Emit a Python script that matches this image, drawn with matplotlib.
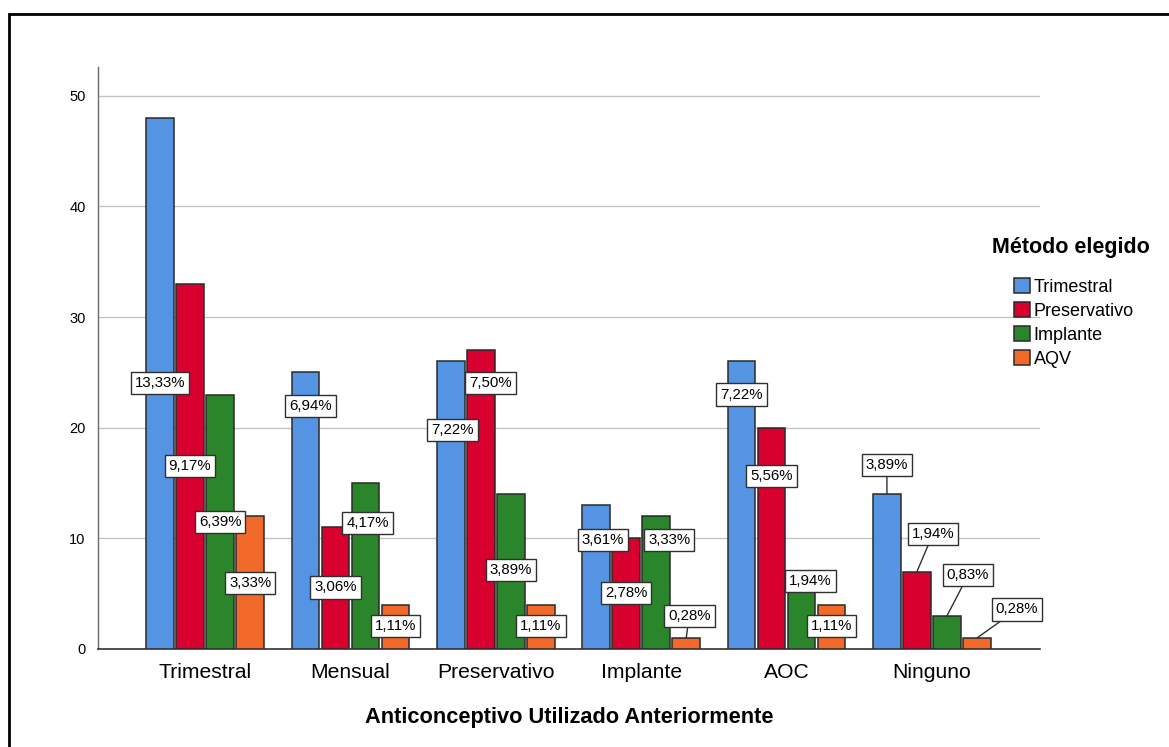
import matplotlib
matplotlib.use("Agg")
import matplotlib.pyplot as plt
from matplotlib.patches import Rectangle, Patch
import numpy as np

plt.rcParams['font.family'] = ['Liberation Sans', 'DejaVu Sans']

# Categories on the x axis and the series (chosen method)
categories = ["Trimestral", "Mensual", "Preservativo", "Implante", "AOC", "Ninguno"]
series_names = ["Trimestral", "Preservativo", "Implante", "AQV"]

# Counts per previous method, one list per chosen method
trimestral = [48, 25, 26, 13, 26, 14]
preservativo = [33, 11, 27, 10, 20, 7]
implante = [23, 15, 14, 12, 7, 3]
aqv = [12, 4, 4, 1, 4, 1]

colors = ["#5594E2", "#D7002F", "#2B862B", "#F26A2A"]

# Label placement: (y in data units, horizontal shift in px, draw leader line)
label_layout = [
    [(24.05, 0, False), (22.0, 5, False), (19.8, 1.5, False), (9.85, 7, False), (23.0, 0, False), (16.6, 0, True)],
    [(16.55, 0, False), (5.56, 0, False), (24.0, 9.5, False), (5.06, 0, False), (15.6, 0, False), (10.4, 16, True)],
    [(11.48, 0, False), (11.4, 2, False), (7.1, 0, False), (9.85, 13, False), (6.15, 9, False), (6.65, 21, True)],
    [(5.97, 0, False), (2.1, 0, False), (2.1, 0, False), (3.0, 3, True), (2.1, 0, False), (3.57, 40, True)],
]

values = [trimestral, preservativo, implante, aqv]
total = sum(sum(v) for v in values)

W, H = 1169, 747
fig = plt.figure(figsize=(W / 100, H / 100), dpi=100)
ax = fig.add_axes([98 / W, 1 - 649 / H, (1040 - 98) / W, (649 - 67) / H])

x = np.arange(len(categories))
pitch = 0.2065
bar_w = 0.19
px_per_unit = 145.4
edge = "#2a2a2a"

for i, (name, vals, col) in enumerate(zip(series_names, values, colors)):
    xs = x + (i - 1.5) * pitch
    ax.bar(xs, vals, width=bar_w, color=col, edgecolor=edge, linewidth=1.1, zorder=3)
    for j, v in enumerate(vals):
        ly, dx, leader = label_layout[i][j]
        txt = f"{v / total * 100:.2f}".replace(".", ",") + "%"
        lx = xs[j] + dx / px_per_unit
        bbox = dict(boxstyle="square,pad=0.27", fc="white", ec="#303030", lw=1.0)
        if leader:
            ax.annotate(txt, xy=(xs[j], v), xytext=(lx, ly), ha="center", va="center",
                        fontsize=10.8, bbox=bbox, zorder=5,
                        arrowprops=dict(arrowstyle="-", color="#303030", lw=1.0,
                                        shrinkA=0, shrinkB=0))
        else:
            ax.text(lx, ly, txt, ha="center", va="center", fontsize=10.8,
                    bbox=bbox, zorder=5)

ax.set_xlim(-0.736, 5.743)
ax.set_ylim(0, 52.6)
ax.set_yticks([0, 10, 20, 30, 40, 50])
ax.set_xticks(x)
ax.set_xticklabels(categories, fontsize=15.2)
ax.tick_params(axis="x", length=0, pad=10)
ax.tick_params(axis="y", length=0, pad=9, labelsize=10.5)
ax.yaxis.grid(True, color="#c4c4c4", linewidth=1.0, zorder=0)
ax.set_axisbelow(True)
for s in ("top", "right"):
    ax.spines[s].set_visible(False)
ax.spines["left"].set_color("#6a6a6a")
ax.spines["bottom"].set_color("#333333")
ax.spines["left"].set_linewidth(1.0)
ax.spines["bottom"].set_linewidth(1.2)

ax.set_xlabel("Anticonceptivo Utilizado Anteriormente", fontsize=15.7,
              fontweight="bold", labelpad=18)

# Legend: title drawn as figure text, entries as square patches
fig.text(1071 / W, 1 - 248 / H, "Método elegido", ha="center", va="center",
         fontsize=15.5, fontweight="bold")
handles = [Patch(facecolor=c, edgecolor=edge, linewidth=1.1) for c in colors]
leg = fig.legend(handles, series_names, loc="upper left",
                 bbox_to_anchor=(1014 / W, 1 - 278 / H), frameon=False, fontsize=13,
                 handlelength=0.88, handleheight=0.88, handletextpad=0.2,
                 labelspacing=0.36, borderpad=0, borderaxespad=0)

# Outer frame
fig.add_artist(Rectangle((9 / W, -0.05), 1.1, 1 - 14 / H + 0.05, transform=fig.transFigure,
                         fill=False, ec="black", lw=2))

fig.savefig("out.png", dpi=100)
